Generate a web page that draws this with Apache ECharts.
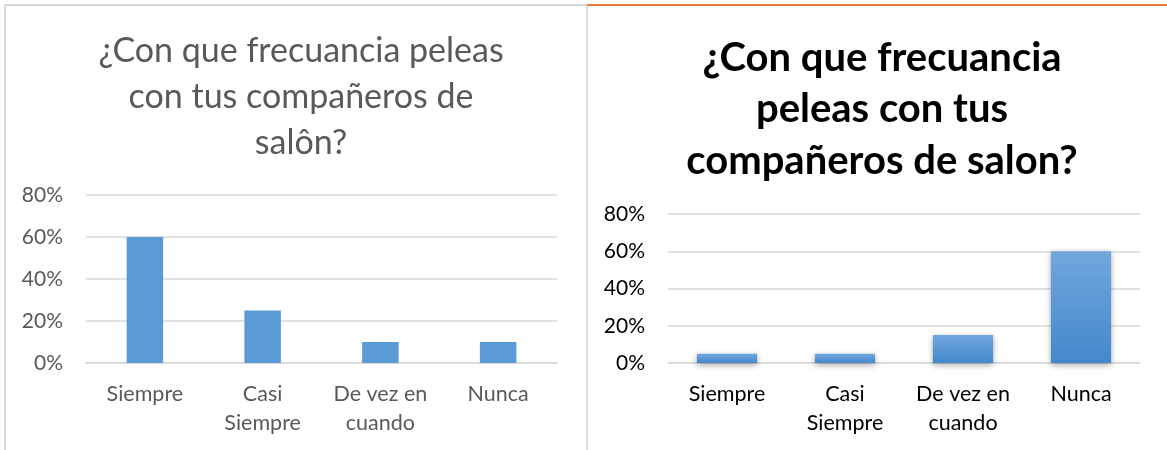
<!DOCTYPE html>
<html>
<head>
<meta charset="utf-8">
<script src="https://cdn.jsdelivr.net/npm/echarts@6/dist/echarts.min.js"></script>
<style>
  html, body { margin: 0; padding: 0; background: #fff; }
  #chart { width: 1167px; height: 450px; }
</style>
</head>
<body>
<div id="chart"></div>
<script>
// categorias (tal como se ven en el eje)
var categorias = ["Siempre", "Casi\nSiempre", "De vez en\ncuando", "Nunca"];
var valoresIzq = [60, 25, 10, 10];
var valoresDer = [5, 5, 15, 60];
var tituloIzq = "¿Con que frecuancia peleas\ncon tus compañeros de\nsalôn?";
var tituloDer = "¿Con que frecuancia\npeleas con tus\ncompañeros de salon?";

var chart = echarts.init(document.getElementById("chart"));

function ejeY(idx, color) {
  return {
    type: "value",
    gridIndex: idx,
    min: 0,
    max: 80,
    interval: 20,
    axisLine: { show: false },
    axisTick: { show: false },
    splitLine: { lineStyle: { color: "#d9d9d9", width: 1.5 } },
    axisLabel: {
      formatter: "{value}%",
      color: color,
      fontFamily: "Lato",
      fontSize: 21,
      margin: 23
    }
  };
}

function ejeX(idx, color) {
  return {
    type: "category",
    gridIndex: idx,
    data: categorias,
    axisLine: { show: true, lineStyle: { color: "#d9d9d9", width: 1.5 } },
    axisTick: { show: false },
    axisLabel: {
      color: color,
      fontFamily: "Lato",
      fontSize: 21.5,
      lineHeight: 29,
      margin: 17,
      interval: 0
    }
  };
}

var option = {
  animation: false,
  title: [
    {
      text: tituloIzq,
      left: 296,
      top: 23,
      textAlign: "center",
      textStyle: {
        fontFamily: "Lato",
        fontWeight: "normal",
        fontSize: 34,
        lineHeight: 46,
        color: "#595959"
      }
    },
    {
      text: tituloDer,
      left: 877,
      top: 27,
      textAlign: "center",
      textStyle: {
        fontFamily: "Lato",
        fontWeight: "bold",
        fontSize: 40,
        lineHeight: 51.5,
        color: "#000"
      }
    }
  ],
  grid: [
    { left: 86, top: 195, width: 471, height: 168 },
    { left: 668, top: 214, width: 472, height: 149 }
  ],
  xAxis: [ejeX(0, "#595959"), ejeX(1, "#000")],
  yAxis: [ejeY(0, "#595959"), ejeY(1, "#000")],
  series: [
    {
      type: "bar",
      xAxisIndex: 0,
      yAxisIndex: 0,
      data: valoresIzq,
      barWidth: "31%",
      itemStyle: { color: "#5b9bd5" }
    },
    {
      type: "bar",
      xAxisIndex: 1,
      yAxisIndex: 1,
      data: valoresDer,
      barWidth: "51%",
      itemStyle: {
        color: new echarts.graphic.LinearGradient(0, 0, 0, 1, [
          { offset: 0, color: "#72a7dd" },
          { offset: 1, color: "#4388cb" }
        ]),
        shadowBlur: 6,
        shadowOffsetY: 2,
        shadowColor: "rgba(0,0,0,0.35)"
      }
    }
  ],
  graphic: [
    // marco del grafico izquierdo
    { type: "line", shape: { x1: 5, y1: 5, x2: 587, y2: 5 }, style: { stroke: "#d9d9d9", lineWidth: 2 }, silent: true },
    { type: "line", shape: { x1: 5, y1: 5, x2: 5, y2: 450 }, style: { stroke: "#d9d9d9", lineWidth: 2 }, silent: true },
    { type: "line", shape: { x1: 587, y1: 5, x2: 587, y2: 450 }, style: { stroke: "#dcdcdc", lineWidth: 2 }, silent: true },
    // borde naranja del grafico derecho
    { type: "line", shape: { x1: 587, y1: 5, x2: 1167, y2: 5 }, style: { stroke: "#ed7d31", lineWidth: 2 }, silent: true }
  ]
};

chart.setOption(option);
</script>
</body>
</html>
